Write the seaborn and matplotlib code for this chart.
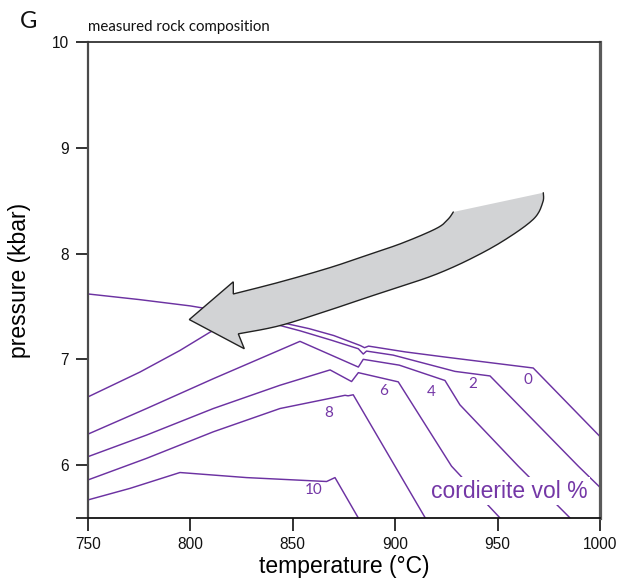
import numpy as np
import pandas as pd
import matplotlib
matplotlib.use("Agg")
import matplotlib.pyplot as plt
from matplotlib.path import Path
from matplotlib.patches import PathPatch
import seaborn as sns

# ---------------- data ----------------
T0 = [750, 775, 800, 820, 843.75, 858, 870, 883, 885, 887, 905, 925, 967.4, 1000]
P0 = [7.618, 7.565, 7.505, 7.44, 7.351, 7.29, 7.225, 7.13, 7.11, 7.125, 7.07, 7.02, 6.918, 6.27]

T2 = [750, 775.4, 794.9, 809.6, 822, 843.75, 853.5, 869, 882, 884.4, 886, 899, 929.2, 946.3, 989.4, 1000]
P2 = [6.645, 6.88, 7.084, 7.257, 7.37, 7.32, 7.27, 7.18, 7.10, 7.05, 7.078, 7.04, 6.886, 6.843, 5.99, 5.79]

T4 = [750, 778.6, 811.2, 853.5, 882, 884.4, 902, 924.3, 931.6, 960.1, 985.4]
P4 = [6.293, 6.535, 6.817, 7.17, 6.927, 7.0, 6.945, 6.8, 6.57, 5.99, 5.5]

T6 = [750, 778.6, 811.2, 843.75, 868.2, 878.7, 882, 901.5, 927.5, 947.8, 951.2]
P6 = [6.08, 6.284, 6.535, 6.755, 6.90, 6.79, 6.874, 6.787, 5.99, 5.57, 5.5]

T8 = [750, 778.6, 811.2, 843.75, 875.5, 877, 879.5, 914.7]
P8 = [5.86, 6.064, 6.315, 6.535, 6.66, 6.655, 6.665, 5.5]

T10 = [750, 770.5, 794.9, 827.4, 866.5, 870.6, 882]
P10 = [5.671, 5.78, 5.93, 5.882, 5.845, 5.882, 5.5]

curve_names = ["0", "2", "4", "6", "8", "10"]
label_T = [965, 938.1, 917.8, 894.2, 867.3, 860]
label_P = [6.808, 6.770, 6.692, 6.70, 6.488, 5.766]

x_ticks = [750, 800, 850, 900, 950, 1000]
y_ticks = [5.5, 6, 7, 8, 9, 10]
y_tick_labels = ["", "6", "7", "8", "9", "10"]

# arrow outline (annotation shape)
arrow_upper_T = [820.95, 843.75, 868.16, 887.70, 903.96, 920.26, 925.78, 928.37]
arrow_upper_P = [7.618, 7.731, 7.867, 7.994, 8.103, 8.239, 8.324, 8.393]
arrow_lower_T = [972.31, 972.02, 967.43, 952.78, 936.52, 920.26, 903.96, 887.70, 868.16, 843.75, 823.39]
arrow_lower_P = [8.575, 8.481, 8.324, 8.120, 7.947, 7.806, 7.696, 7.594, 7.467, 7.319, 7.241]
arrow_head_T = [826.32, 799.46, 820.95]
arrow_head_P = [7.100, 7.376, 7.733]

purple = "#6c32a2"
text_purple = "#7437a6"

frames = []
for name, T, P in zip(curve_names, [T0, T2, T4, T6, T8, T10], [P0, P2, P4, P6, P8, P10]):
    frames.append(pd.DataFrame({"T": T, "P": P, "curve": name}))
df = pd.concat(frames, ignore_index=True)

sns.set_theme(style="white")
plt.rcParams["font.family"] = ["Liberation Sans", "DejaVu Sans"]

fig = plt.figure(figsize=(6.21, 5.84), dpi=100)
ax = fig.add_axes([88 / 621, 1 - 518 / 584, 512 / 621, 476 / 584])

sns.lineplot(data=df, x="T", y="P", units="curve", estimator=None, sort=False,
             color=purple, lw=1.05, ax=ax, zorder=2)

ax.set_xlim(750, 1000)
ax.set_ylim(5.5, 10)
ax.set_xticks(x_ticks)
ax.set_yticks(y_ticks)
ax.set_yticklabels(y_tick_labels)
ax.tick_params(axis="both", direction="out", length=9, width=1.3, color="#222222",
               labelsize=11.2, pad=5, labelcolor="#111111")
ax.tick_params(axis="x", bottom=True)
ax.tick_params(axis="y", left=True)
ax.set_xlabel("temperature (°C)", fontsize=16.5, labelpad=2, color="black")
ax.set_ylabel("pressure (kbar)", fontsize=16.5, labelpad=15, color="black")

for side, col, lw in [("left", "#4a4a4a", 1.6), ("right", "#5a5a5a", 2.3),
                      ("top", "#333333", 1.3), ("bottom", "#111111", 1.3)]:
    ax.spines[side].set_visible(True)
    ax.spines[side].set_color(col)
    ax.spines[side].set_linewidth(lw)


# ---------------- curved arrow ----------------
def catmull(xs, ys, n=12):
    pts = np.column_stack([xs, ys]).astype(float)
    p = np.vstack([pts[0], pts, pts[-1]])
    out = []
    for i in range(1, len(p) - 2):
        p0, p1, p2, p3 = p[i - 1], p[i], p[i + 1], p[i + 2]
        for t in np.linspace(0, 1, n, endpoint=False):
            t2, t3 = t * t, t * t * t
            out.append(0.5 * ((2 * p1) + (-p0 + p2) * t + (2 * p0 - 5 * p1 + 4 * p2 - p3) * t2
                              + (-p0 + 3 * p1 - 3 * p2 + p3) * t3))
    out.append(pts[-1])
    return np.array(out)

sx, sy = 2.048, 106.2  # data -> pixel-like scaling
up = catmull(np.array(arrow_upper_T) * sx, np.array(arrow_upper_P) * sy) / [sx, sy]
lo = catmull(np.array(arrow_lower_T) * sx, np.array(arrow_lower_P) * sy) / [sx, sy]
head = np.column_stack([arrow_head_T, arrow_head_P])

# outline: upper edge from tail to head, barb top, tip, barb bottom, lower edge to tail
outline = np.vstack([up[::-1], head[[2, 1, 0]], lo[::-1]])
fill_poly = np.vstack([outline, outline[:1]])

ax.add_patch(PathPatch(Path(fill_poly), facecolor="#d2d3d5", edgecolor="none", zorder=3))
ax.plot(outline[:, 0], outline[:, 1], color="#222222", lw=1.0, zorder=3.5,
        solid_joinstyle="miter")

# ---------------- labels ----------------
for name, lt, lp in zip(curve_names, label_T, label_P):
    ax.text(lt, lp, name, color=text_purple, fontsize=11, ha="center", va="center",
            family=["Lato", "DejaVu Sans"], zorder=4)

ax.text(955.5, 5.753, "cordierite vol %", color=text_purple, fontsize=16.5,
        ha="center", va="center", zorder=5,
        bbox=dict(boxstyle="square,pad=0.12", facecolor="white", edgecolor="none"))

fig.text(88 / 621, 1 - 27 / 584, "measured rock composition", fontsize=10.8,
         ha="left", va="center", family=["Lato", "DejaVu Sans"], color="#111111")
fig.text(20 / 621, 1 - 21 / 584, "G", fontsize=17, ha="left", va="center",
         family=["Lato", "DejaVu Sans"], color="#111111")

fig.savefig("out.png", dpi=100)
